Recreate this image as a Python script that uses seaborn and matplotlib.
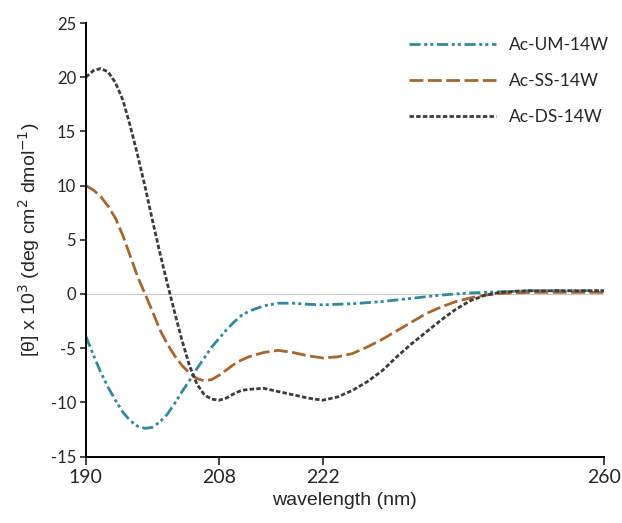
import matplotlib
matplotlib.use('Agg')
import matplotlib.pyplot as plt
import pandas as pd
import seaborn as sns

# wavelengths (nm) shared by all three spectra
wavelength = [190, 191, 192, 193, 194, 195, 196, 197, 198, 199, 200, 201, 202,
              203, 204, 205, 206, 207, 208, 209, 210, 211, 212, 214, 216, 218,
              220, 222, 224, 226, 228, 230, 232, 234, 236, 238, 240, 242, 244,
              246, 248, 250, 255, 260]

# mean residue ellipticity, x 10^3
um_14w = [-3.9, -5.6, -7.2, -8.6, -9.8, -10.9, -11.7, -12.2, -12.4, -12.3, -11.8,
          -11.1, -10.1, -9.0, -8.0, -6.9, -5.9, -4.9, -4.1, -3.3, -2.6, -2.0, -1.6,
          -1.1, -0.85, -0.85, -0.95, -1.0, -0.95, -0.9, -0.8, -0.7, -0.55, -0.4,
          -0.25, -0.1, 0.0, 0.1, 0.15, 0.2, 0.25, 0.3, 0.3, 0.3]
ss_14w = [10.0, 9.6, 9.0, 8.1, 7.0, 5.4, 3.5, 1.6, 0.0, -1.6, -3.3, -4.6, -5.7,
          -6.6, -7.3, -7.8, -8.0, -7.9, -7.5, -7.0, -6.5, -6.1, -5.8, -5.4, -5.2,
          -5.4, -5.7, -5.9, -5.8, -5.5, -4.9, -4.2, -3.4, -2.6, -1.8, -1.2, -0.7,
          -0.35, -0.1, 0.05, 0.1, 0.15, 0.15, 0.15]
ds_14w = [20.0, 20.6, 20.8, 20.5, 19.5, 17.9, 15.5, 12.8, 9.9, 6.8, 3.8, 1.0, -1.7,
          -4.3, -6.6, -8.3, -9.3, -9.7, -9.8, -9.6, -9.2, -8.9, -8.8, -8.7, -9.0,
          -9.3, -9.6, -9.8, -9.5, -8.9, -8.1, -7.1, -5.8, -4.6, -3.5, -2.4, -1.4,
          -0.6, -0.1, 0.15, 0.25, 0.3, 0.3, 0.3]

peptides = ['Ac-UM-14W', 'Ac-SS-14W', 'Ac-DS-14W']
colors = {'Ac-UM-14W': '#2E8B9E', 'Ac-SS-14W': '#A9662B', 'Ac-DS-14W': '#3C3C3C'}
dashes = {'Ac-UM-14W': (4, 1.3, 1.1, 1.1, 1.1, 1.3),
          'Ac-SS-14W': (5, 1.6),
          'Ac-DS-14W': (1.6, 0.8)}

x_ticks = [190, 208, 222, 260]
y_ticks = [-15, -10, -5, 0, 5, 10, 15, 20, 25]

# long-form table for seaborn
df = pd.DataFrame({
    'wavelength': wavelength * 3,
    'theta': um_14w + ss_14w + ds_14w,
    'peptide': [p for p in peptides for _ in wavelength],
})

sns.set_style('white')
plt.rcParams['font.family'] = ['Lato', 'DejaVu Sans']
plt.rcParams['axes.unicode_minus'] = False

fig = plt.figure(figsize=(6.22, 5.23), dpi=100)
ax = fig.add_axes([0.138, 0.127, 0.833, 0.829])

ax.axhline(0, color='#c8c8c8', lw=0.8, zorder=0)

sns.lineplot(data=df, x='wavelength', y='theta', hue='peptide', style='peptide',
             hue_order=peptides, style_order=peptides, palette=colors,
             dashes=dashes, linewidth=2.0, ax=ax, sort=False)

ax.set_xlim(190, 260)
ax.set_ylim(-15, 25)
ax.set_xticks(x_ticks)
ax.set_yticks(y_ticks)
ax.tick_params(axis='y', direction='out', length=4, width=1.2, labelsize=12,
               left=True, pad=3)
ax.tick_params(axis='x', direction='out', length=6, width=1.2, labelsize=14,
               bottom=True, pad=3)

for side in ['top', 'right']:
    ax.spines[side].set_visible(False)
for side in ['left', 'bottom']:
    ax.spines[side].set_color('black')
    ax.spines[side].set_linewidth(1.4)

ax.set_xlabel('wavelength (nm)', fontsize=14, family='Liberation Sans', labelpad=4)
ax.set_ylabel('[θ] x 10$^3$ (deg cm$^2$ dmol$^{-1}$)', fontsize=14,
              family='Liberation Sans', labelpad=6)

leg = ax.legend(loc='upper right', bbox_to_anchor=(1.04, 1.003), frameon=False,
                fontsize=12.5, handlelength=5.0, handletextpad=0.75,
                labelspacing=1.15)

fig.savefig('out.png', dpi=100)
